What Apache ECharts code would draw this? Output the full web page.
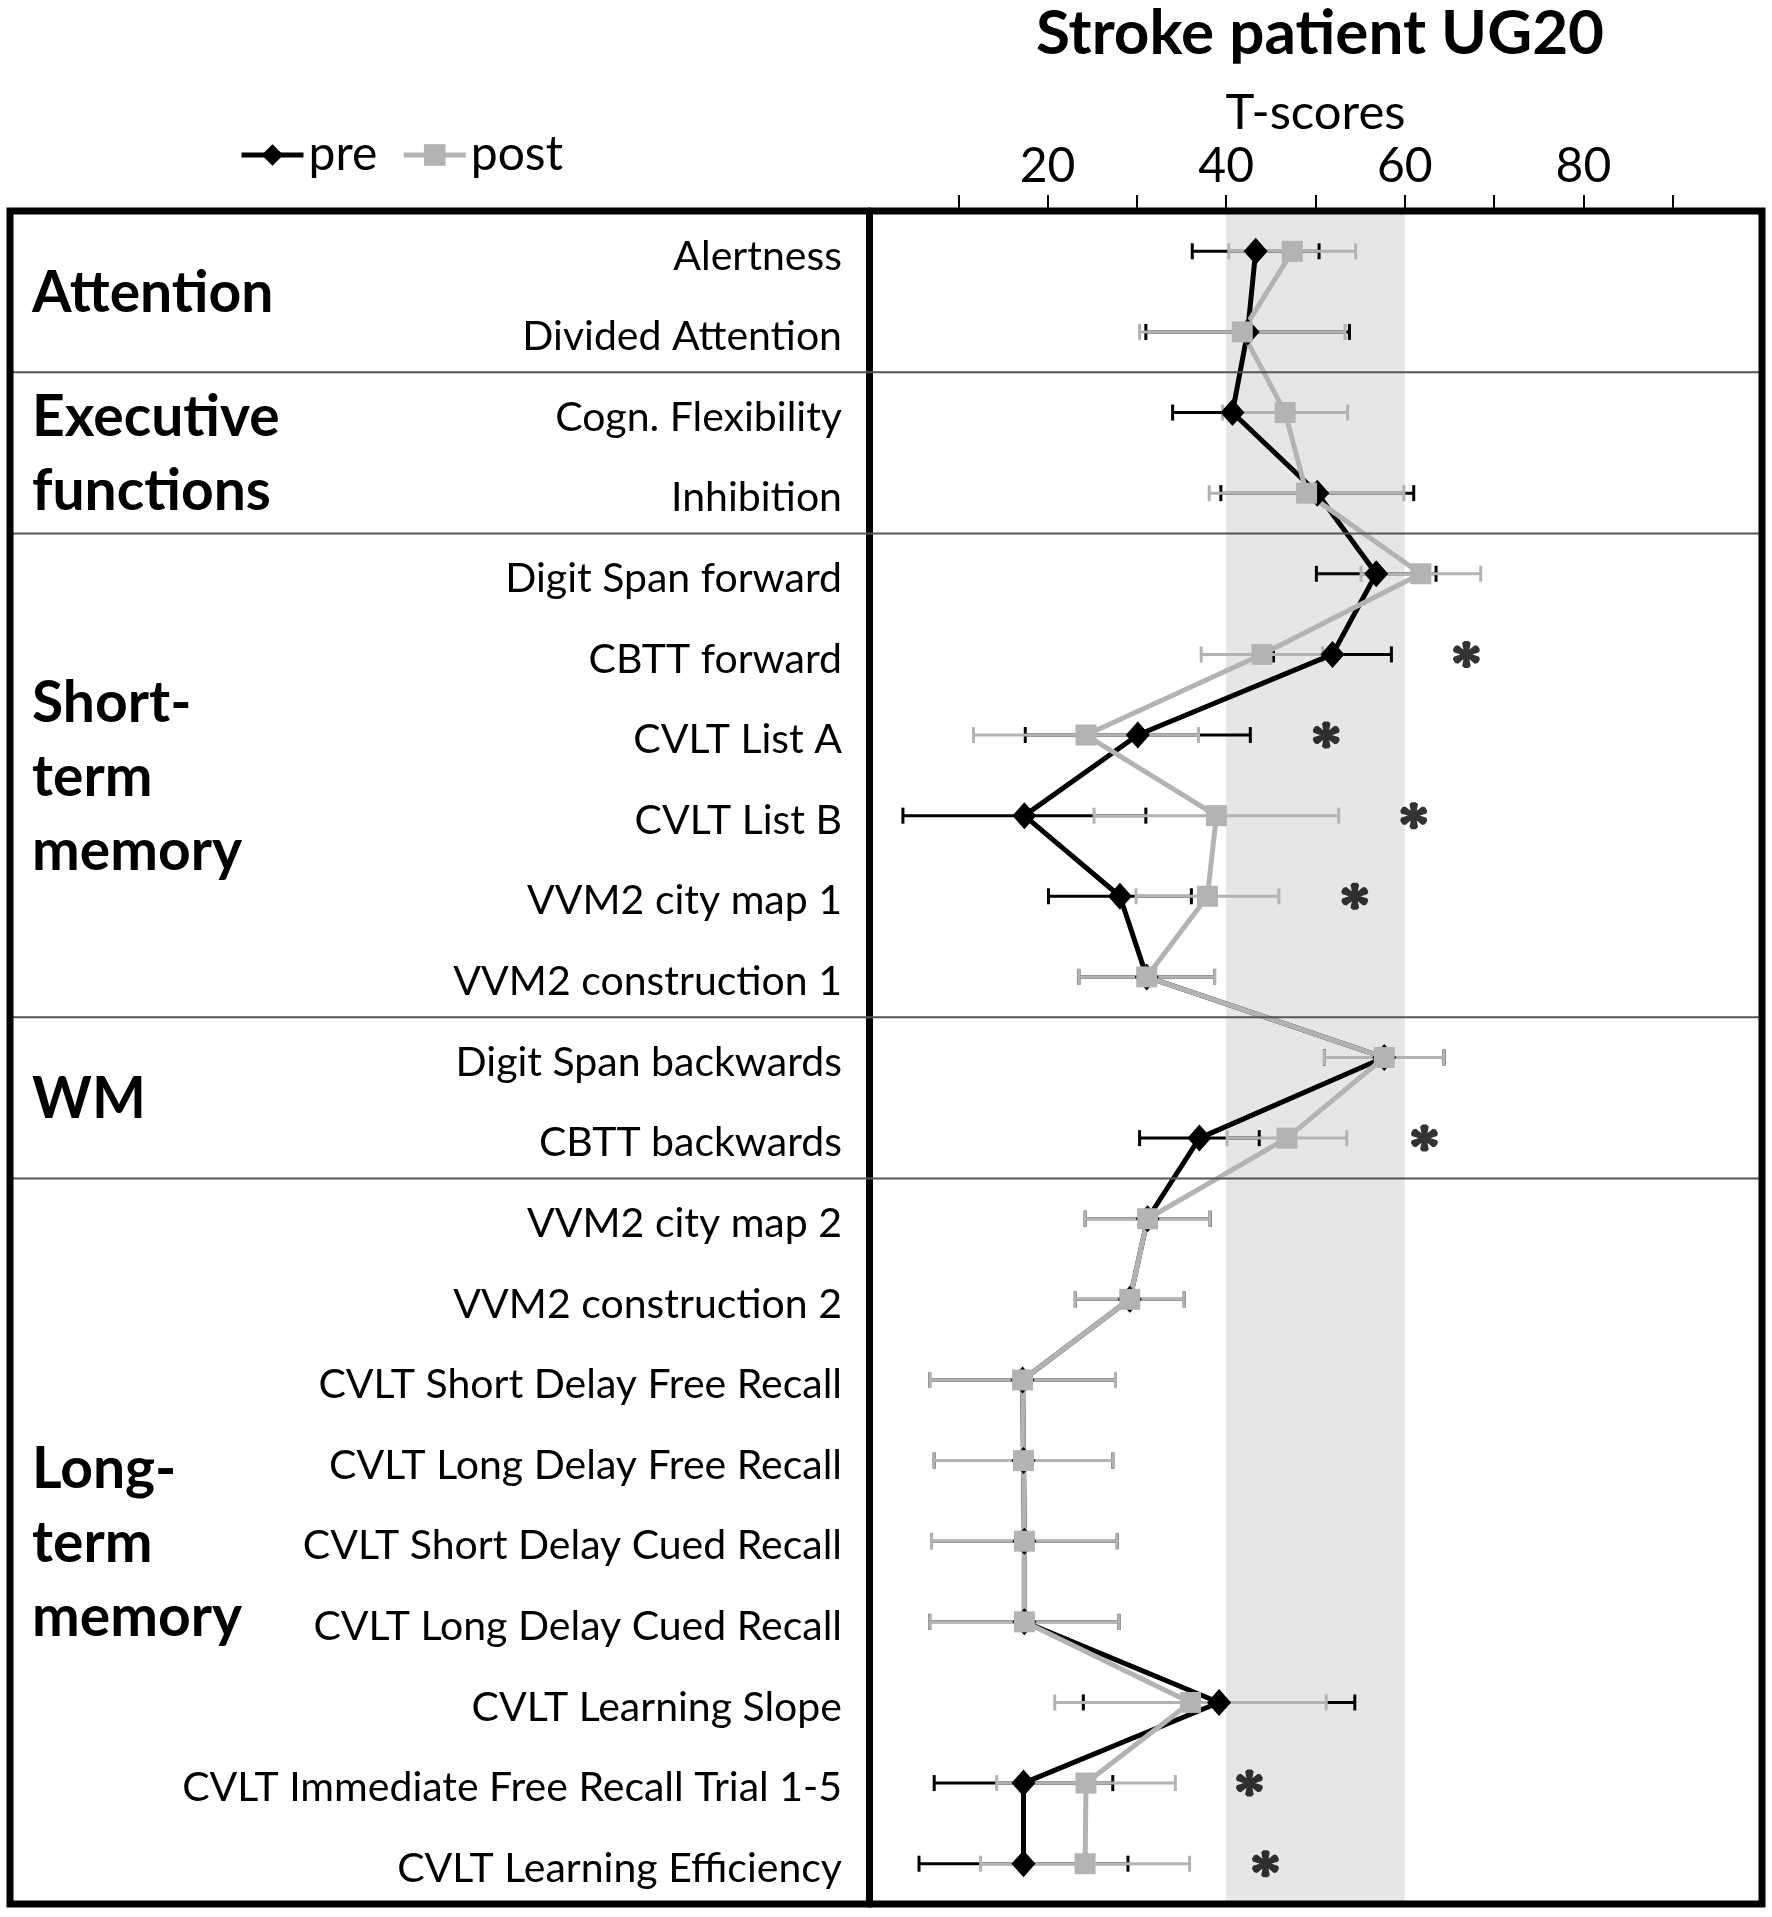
<!DOCTYPE html>
<html>
<head>
<meta charset="utf-8">
<script src="https://cdn.jsdelivr.net/npm/echarts@6/dist/echarts.min.js"></script>
<style>
  html, body { margin: 0; background: #fff; }
  #chart { width: 1772px; height: 1917px; }
</style>
</head>
<body>
<div id="chart"></div>
<script>
const tests = [
  'Alertness', 'Divided Attention', 'Cogn. Flexibility', 'Inhibition',
  'Digit Span forward', 'CBTT forward', 'CVLT List A', 'CVLT List B',
  'VVM2 city map 1', 'VVM2 construction 1', 'Digit Span backwards', 'CBTT backwards',
  'VVM2 city map 2', 'VVM2 construction 2', 'CVLT Short Delay Free Recall',
  'CVLT Long Delay Free Recall', 'CVLT Short Delay Cued Recall', 'CVLT Long Delay Cued Recall',
  'CVLT Learning Slope', 'CVLT Immediate Free Recall Trial 1-5', 'CVLT Learning Efficiency'
]
const pre = [43.3, 42.4, 40.7, 50.2, 56.8, 51.9, 30.1, 17.4, 28.1, 31.1, 57.7, 37.0, 31.2, 29.2, 17.2, 17.3, 17.4, 17.4, 39.2, 17.3, 17.3]
const preErr = [7.1, 11.4, 6.7, 10.8, 6.7, 6.6, 12.6, 13.6, 8.0, 7.6, 6.7, 6.7, 7.0, 6.1, 10.4, 10.0, 10.4, 10.6, 15.2, 10.0, 11.7]
const post = [47.4, 41.8, 46.6, 49.0, 61.8, 44.0, 24.3, 38.9, 37.9, 31.1, 57.7, 46.8, 31.2, 29.2, 17.2, 17.3, 17.4, 17.4, 36.0, 24.3, 24.2]
const postErr = [7.1, 11.5, 7.0, 10.9, 6.7, 6.8, 12.6, 13.7, 8.0, 7.6, 6.7, 6.7, 7.0, 6.1, 10.4, 10.0, 10.4, 10.6, 15.2, 10.0, 11.7]

// significant change markers: row index and x position of the asterisk
const starRows = [5, 6, 7, 8, 11, 19, 20]
const starX = [66.9, 51.2, 61.0, 54.4, 62.2, 42.6, 44.4]

// domain groups (first and last row of each)
const groupNames = ['Attention', 'Executive\nfunctions', 'Short-\nterm\nmemory', 'WM', 'Long-\nterm\nmemory']
const groupStart = [0, 2, 4, 10, 12]
const groupEnd = [1, 3, 9, 11, 20]

const normalRange = [40, 60]
const tickValues = [10, 20, 30, 40, 50, 60, 70, 80, 90]
const tickLabels = [20, 40, 60, 80]

const FONT = 'Lato'
const GRAY = '#b3b3b3'

// six tapered arms, same winding, for a bold asterisk symbol
function asteriskPath() {
  let d = ''
  for (let k = 0; k < 6; k++) {
    const a = (k * 60 - 90) * Math.PI / 180
    const c = Math.cos(a), s = Math.sin(a)
    const pts = [[0, -0.14], [0.85, -0.3], [1, -0.15], [1, 0.15], [0.85, 0.3], [0, 0.14]].map(([u, v]) =>
      [(u * c - v * s).toFixed(3), (u * s + v * c).toFixed(3)])
    d += 'M' + pts.map(p => p.join(' ')).join('L') + 'Z'
  }
  return 'path://M-0.22 -0.22L0.22 -0.22L0.22 0.22L-0.22 0.22Z' + d
}

const errRender = (color) => (params, api) => {
  const x = api.value(0)
  const e = api.value(1)
  const y = api.value(2)
  const a = api.coord([x - e, y])
  const b = api.coord([x + e, y])
  const style = { stroke: color, lineWidth: 3 }
  return {
    type: 'group',
    children: [
      { type: 'line', shape: { x1: a[0], y1: a[1], x2: b[0], y2: b[1] }, style },
      { type: 'line', shape: { x1: a[0], y1: a[1] - 8, x2: a[0], y2: a[1] + 8 }, style },
      { type: 'line', shape: { x1: b[0], y1: b[1] - 8, x2: b[0], y2: b[1] + 8 }, style }
    ]
  }
}

const chart = echarts.init(document.getElementById('chart'))

chart.setOption({
  animation: false,
  title: {
    text: 'Stroke patient UG20',
    left: 1315,
    top: -2,
    textAlign: 'center',
    textStyle: { fontFamily: FONT, fontWeight: 'bold', fontSize: 62, color: '#000' }
  },
  legend: {
    data: ['pre', 'post'],
    left: 234,
    top: 126,
    itemWidth: 62,
    itemHeight: 27,
    itemGap: 24,
    lineStyle: { width: 5 },
    textStyle: { fontFamily: FONT, fontSize: 48, color: '#000' }
  },
  grid: { left: 869, right: 10, top: 211, bottom: 13 },
  xAxis: {
    type: 'value',
    position: 'top',
    min: 0,
    max: 100,
    name: 'T-scores',
    nameLocation: 'middle',
    nameGap: 72,
    nameTextStyle: { fontFamily: FONT, fontSize: 49, color: '#000' },
    axisLine: { show: false },
    axisTick: { show: true, customValues: tickValues, length: 16, lineStyle: { color: '#000', width: 2 } },
    axisLabel: { customValues: tickLabels, fontFamily: FONT, fontSize: 48, color: '#000', margin: 20 },
    splitLine: { show: false }
  },
  yAxis: {
    type: 'category',
    inverse: true,
    data: tests,
    axisLine: { show: true, lineStyle: { color: '#000', width: 7 } },
    axisTick: { show: false },
    axisLabel: {
      margin: 27,
      interval: 0,
      formatter: (v) => '{t|' + v + '}',
      rich: { t: { fontFamily: FONT, fontSize: 41, color: '#000', padding: [10, 0, 0, 0] } }
    },
    splitLine: { show: false }
  },
  series: [
    {
      name: 'band',
      type: 'line',
      data: [],
      z: 0,
      silent: true,
      markArea: {
        silent: true,
        itemStyle: { color: '#e6e6e6' },
        data: [[{ xAxis: normalRange[0] }, { xAxis: normalRange[1] }]]
      }
    },
    {
      name: 'preErr',
      type: 'custom',
      renderItem: errRender('#000'),
      encode: { x: 0, y: 2 },
      data: pre.map((v, i) => [v, preErr[i], i]),
      silent: true
    },
    {
      name: 'pre',
      type: 'line',
      data: pre,
      symbol: 'diamond',
      symbolSize: [24, 27],
      lineStyle: { color: '#000', width: 5 },
      itemStyle: { color: '#000' }
    },
    {
      name: 'postErr',
      type: 'custom',
      renderItem: errRender(GRAY),
      encode: { x: 0, y: 2 },
      data: post.map((v, i) => [v, postErr[i], i]),
      silent: true
    },
    {
      name: 'post',
      type: 'line',
      data: post,
      symbol: 'rect',
      symbolSize: 21,
      lineStyle: { color: GRAY, width: 5 },
      itemStyle: { color: GRAY }
    },
    {
      name: 'stars',
      type: 'scatter',
      data: starX.map((x, k) => [x, starRows[k]]),
      symbol: asteriskPath(),
      symbolSize: 27,
      itemStyle: { color: '#000' },
      silent: true
    }
  ]
})

// frame, domain separators and domain labels placed with the category scale
const rowY = (i) => chart.convertToPixel({ yAxisIndex: 0 }, tests[i])
const elements = [
  {
    type: 'rect',
    z: 10,
    shape: { x: 10, y: 211, width: 1752, height: 1693 },
    style: { fill: 'transparent', stroke: '#000', lineWidth: 7 }
  }
]
groupStart.slice(1).forEach((s) => {
  const y = (rowY(s - 1) + rowY(s)) / 2
  elements.push({
    type: 'line',
    z: 9,
    shape: { x1: 10, y1: y, x2: 1762, y2: y },
    style: { stroke: '#555', lineWidth: 2 }
  })
})
groupNames.forEach((name, g) => {
  elements.push({
    type: 'text',
    z: 10,
    x: 32,
    y: (rowY(groupStart[g]) + rowY(groupEnd[g])) / 2 + 2,
    style: {
      text: name,
      fontFamily: FONT,
      fontWeight: 'bold',
      fontSize: 57,
      lineHeight: 74,
      fill: '#000',
      align: 'left',
      verticalAlign: 'middle'
    }
  })
})
chart.setOption({ graphic: { elements } })
</script>
</body>
</html>
